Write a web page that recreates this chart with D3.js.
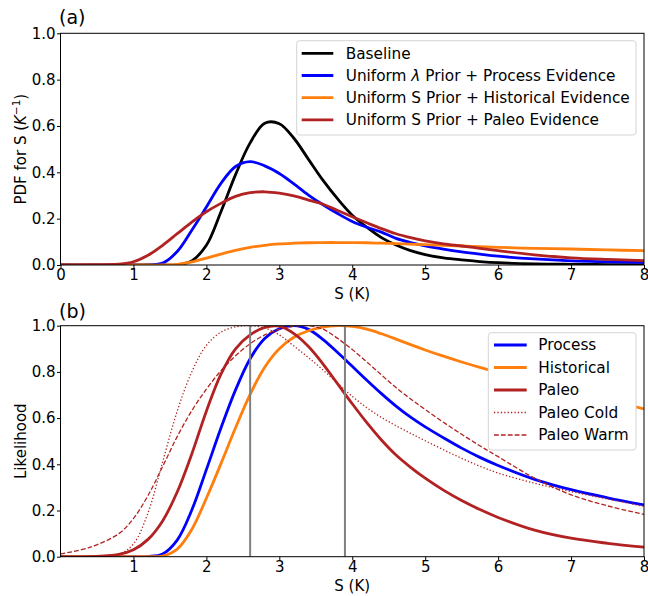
<!DOCTYPE html>
<html><head><meta charset="utf-8">
<script src="https://cdn.jsdelivr.net/npm/d3@7"></script>
<style>body{margin:0;background:#fff} text{font-family:"DejaVu Sans",sans-serif;fill:#000}</style>
</head><body><svg id="c" width="648" height="596"></svg>
<script>
// ---- data ----
const S = [0,0.4,0.8,1.0,1.2,1.4,1.6,1.8,2.0,2.2,2.4,2.6,2.8,3.0,3.2,3.4,3.6,3.8,4.0,4.2,4.4,4.6,4.8,5.0,5.25,5.5,5.75,6.0,6.5,7.0,7.5,8.0];
// panel (a) PDFs
const baselinePdf   = [0,0,0,0,0,0,0.001,0.018,0.085,0.23,0.39,0.527,0.612,0.61,0.547,0.456,0.365,0.285,0.215,0.163,0.118,0.086,0.062,0.045,0.031,0.022,0.015,0.01,0.005,0.003,0.002,0.001];
const processPdf    = [0,0,0,0,0,0.008,0.058,0.15,0.25,0.352,0.425,0.446,0.428,0.395,0.35,0.302,0.26,0.222,0.188,0.163,0.142,0.115,0.097,0.083,0.069,0.057,0.047,0.038,0.026,0.018,0.014,0.011];
const historicalPdf = [0,0,0,0,0,0,0.003,0.013,0.03,0.047,0.063,0.076,0.085,0.091,0.094,0.096,0.097,0.097,0.097,0.096,0.094,0.092,0.09,0.088,0.085,0.082,0.079,0.076,0.072,0.069,0.065,0.062];
const paleoPdf      = [0,0,0.004,0.014,0.042,0.085,0.135,0.185,0.23,0.266,0.296,0.312,0.316,0.31,0.298,0.28,0.262,0.235,0.208,0.182,0.157,0.135,0.118,0.104,0.091,0.082,0.072,0.062,0.044,0.031,0.024,0.019];
// panel (b) likelihoods
const processLik    = [0,0,0,0,0.001,0.012,0.072,0.202,0.377,0.557,0.722,0.857,0.945,0.987,1.0,0.984,0.94,0.884,0.824,0.764,0.706,0.652,0.604,0.562,0.515,0.47,0.43,0.395,0.335,0.29,0.255,0.224];
const historicalLik = [0,0,0,0,0,0.003,0.033,0.118,0.253,0.403,0.558,0.703,0.82,0.9,0.95,0.978,0.994,1.0,0.997,0.985,0.965,0.942,0.918,0.895,0.868,0.843,0.82,0.798,0.757,0.718,0.678,0.64];
const paleoLik      = [0,0,0.01,0.03,0.075,0.155,0.28,0.445,0.63,0.79,0.9,0.96,0.993,0.998,0.966,0.91,0.834,0.748,0.662,0.58,0.505,0.44,0.387,0.34,0.288,0.243,0.204,0.17,0.115,0.08,0.058,0.041];
const paleoColdLik  = [0,0,0.01,0.055,0.19,0.41,0.63,0.8,0.915,0.972,0.995,1.0,0.99,0.96,0.912,0.862,0.808,0.75,0.694,0.645,0.603,0.567,0.534,0.502,0.463,0.426,0.392,0.362,0.318,0.282,0.25,0.218];
const paleoWarmLik  = [0.012,0.04,0.1,0.165,0.265,0.39,0.52,0.632,0.725,0.805,0.87,0.922,0.96,0.984,0.997,1.0,0.985,0.945,0.897,0.843,0.787,0.732,0.683,0.637,0.582,0.53,0.48,0.433,0.34,0.268,0.22,0.183];
const likelyRange = [2.6, 3.9];
const xTicksA = [0,1,2,3,4,5,6,7,8];
const xTicksB = [1,2,3,4,5,6,7,8];
const yTicks = [0,0.2,0.4,0.6,0.8,1.0];

const seriesA = [
  {name:"Baseline", vals:baselinePdf, color:"#000000", w:2.8},
  {name:"Uniform λ Prior + Process Evidence", vals:processPdf, color:"#0000ff", w:2.8, lambda:true},
  {name:"Uniform S Prior + Historical Evidence", vals:historicalPdf, color:"#ff7f0e", w:2.8},
  {name:"Uniform S Prior + Paleo Evidence", vals:paleoPdf, color:"#b22222", w:2.8}
];
const seriesB = [
  {name:"Process", vals:processLik, color:"#0000ff", w:2.8},
  {name:"Historical", vals:historicalLik, color:"#ff7f0e", w:2.8},
  {name:"Paleo", vals:paleoLik, color:"#b22222", w:2.8},
  {name:"Paleo Cold", vals:paleoColdLik, color:"#b22222", w:1.3, dash:"1.3,2.1"},
  {name:"Paleo Warm", vals:paleoWarmLik, color:"#b22222", w:1.3, dash:"4.8,2.1"}
];

// ---- layout ----
const svg = d3.select("#c");
const L = 60.5, R = 644;
const x = d3.scaleLinear().domain([0,8]).range([L,R]);

function panel(id, top, bottom, series) {
  const y = d3.scaleLinear().domain([0,1]).range([bottom, top]);
  const g = svg.append("g");
  g.append("clipPath").attr("id","clip"+id).append("rect")
    .attr("x",L).attr("y",top).attr("width",R-L).attr("height",bottom-top);
  const line = d3.line().x((d,i)=>x(S[i])).y(d=>y(d)).curve(d3.curveCatmullRom.alpha(0.5));
  const plot = g.append("g").attr("clip-path","url(#clip"+id+")");
  series.forEach(s=>{
    plot.append("path").attr("d", line(s.vals)).attr("fill","none")
      .attr("stroke", s.color).attr("stroke-width", s.w)
      .attr("stroke-dasharray", s.dash || null);
  });
  return {g, y, plot};
}

function axes(p, top, bottom, xTicks) {
  const g = p.g;
  const xa = g.append("g").attr("transform",`translate(0,${bottom})`)
    .call(d3.axisBottom(x).tickValues(xTicks).tickFormat(d3.format("d")).tickSizeOuter(0).tickSize(3.5).tickPadding(1));
  const ya = g.append("g").attr("transform",`translate(${L},0)`)
    .call(d3.axisLeft(p.y).tickValues(yTicks).tickFormat(d3.format(".1f")).tickSizeOuter(0).tickSize(3.5).tickPadding(1.5));
  [xa,ya].forEach(a=>{
    a.select(".domain").remove();
    a.selectAll("line").attr("stroke","#000").attr("stroke-width",1);
    a.selectAll("text").attr("font-size",15).attr("font-family","DejaVu Sans").attr("fill","#000");
  });
  g.append("rect").attr("x",L).attr("y",top).attr("width",R-L).attr("height",bottom-top)
    .attr("fill","none").attr("stroke","#000").attr("stroke-width",1);
}

function legendBox(g, bx, by, bw, bh, rows, y0, pitch, lx0, lx1, tx) {
  g.append("rect").attr("x",bx).attr("y",by).attr("width",bw).attr("height",bh)
    .attr("rx",3).attr("fill","#fff").attr("stroke","#d4d4d4").attr("stroke-width",1);
  rows.forEach((s,i)=>{
    const yy = y0 + i*pitch;
    g.append("line").attr("x1",lx0).attr("x2",lx1).attr("y1",yy).attr("y2",yy)
      .attr("stroke",s.color).attr("stroke-width",s.w).attr("stroke-dasharray",s.dash||null);
    const t = g.append("text").attr("x",tx).attr("y",yy+5.4).attr("font-size",15.3);
    if (s.lambda) {
      t.append("tspan").text("Uniform ");
      t.append("tspan").attr("font-style","italic").text("λ");
      t.append("tspan").text(" Prior + Process Evidence");
    } else t.text(s.name);
  });
}

// Panel (a)
const topA = 33.3, botA = 265;
const pa = panel("a", topA, botA, seriesA);
axes(pa, topA, botA, xTicksA);
legendBox(pa.g, 296.7, 40.7, 339.3, 94.3, seriesA, 53.3, 22.2, 301.7, 333.3, 345.7);
svg.append("text").attr("x",59).attr("y",24).attr("font-size",19).text("(a)");
svg.append("text").attr("x",(L+R)/2).attr("y",298.5).attr("text-anchor","middle").attr("font-size",15).text("S (K)");
{
  const t = svg.append("text").attr("transform",`translate(25.5,${(topA+botA)/2}) rotate(-90)`)
    .attr("text-anchor","middle").attr("font-size",15);
  t.append("tspan").text("PDF for S (");
  t.append("tspan").attr("font-style","italic").text("K");
  t.append("tspan").attr("dy",-6).attr("font-size",10.5).text("−1");
  t.append("tspan").attr("dy",6).text(")");
}

// Panel (b)
const topB = 325.7, botB = 556.7;
const pb = panel("b", topB, botB, seriesB);
likelyRange.forEach(v=>{
  pb.plot.append("line").attr("x1",x(v)).attr("x2",x(v)).attr("y1",topB).attr("y2",botB)
    .attr("stroke","#808080").attr("stroke-width",2);
});
axes(pb, topB, botB, xTicksB);
legendBox(pb.g, 488.3, 332.7, 147.7, 117.3, seriesB, 345, 22.5, 494, 526.7, 538.3);
svg.append("text").attr("x",59).attr("y",318).attr("font-size",19).text("(b)");
svg.append("text").attr("x",(L+R)/2).attr("y",590.5).attr("text-anchor","middle").attr("font-size",15).text("S (K)");
svg.append("text").attr("transform",`translate(25.5,${(topB+botB)/2}) rotate(-90)`)
  .attr("text-anchor","middle").attr("font-size",15).text("Likelihood");
</script></body></html>
